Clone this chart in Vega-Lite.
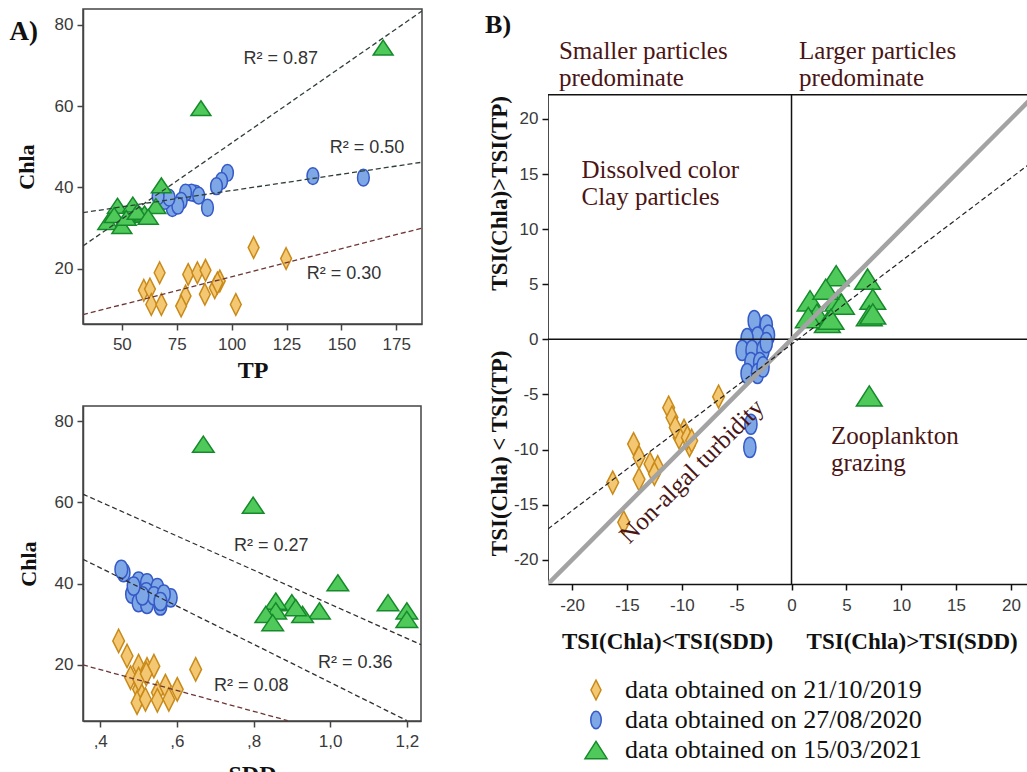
{
  "$schema": "https://vega.github.io/schema/vega-lite/v6.json",
  "padding": {"left": 8, "top": 8, "right": 0, "bottom": 0},
  "background": "white",
  "spacing": 62,
  "config": {
    "font": "Liberation Sans",
    "view": {"stroke": "#444", "strokeWidth": 1.5},
    "axis": {"labelFont": "Liberation Sans", "labelFontSize": 17, "labelColor": "#3a3a3a", "domainColor": "#444", "tickColor": "#444", "grid": false, "domainWidth": 1.5, "tickWidth": 1.5, "tickSize": 6, "titleFont": "Liberation Serif", "titleFontWeight": "bold", "titleColor": "#111"}
  },
  "resolve": {"scale": {"shape": "independent", "fill": "independent", "stroke": "independent"}, "legend": {"shape": "independent", "fill": "independent", "stroke": "independent"}},
  "datasets": {
    "tp": [
      {"date": "21/10/2019", "TP": 110, "Chla": 25.2}, {"date": "21/10/2019", "TP": 124.8, "Chla": 22.5}, {"date": "21/10/2019", "TP": 67.2, "Chla": 19}, {"date": "21/10/2019", "TP": 80.2, "Chla": 18.6}, {"date": "21/10/2019", "TP": 84.4, "Chla": 19}, {"date": "21/10/2019", "TP": 88.1, "Chla": 19.6}, {"date": "21/10/2019", "TP": 94.6, "Chla": 17}, {"date": "21/10/2019", "TP": 92.3, "Chla": 15.3}, {"date": "21/10/2019", "TP": 60, "Chla": 14.7}, {"date": "21/10/2019", "TP": 62.8, "Chla": 15}, {"date": "21/10/2019", "TP": 87.8, "Chla": 13.7}, {"date": "21/10/2019", "TP": 79, "Chla": 13.3}, {"date": "21/10/2019", "TP": 77, "Chla": 10.8}, {"date": "21/10/2019", "TP": 63.4, "Chla": 11.2}, {"date": "21/10/2019", "TP": 68, "Chla": 11.2}, {"date": "21/10/2019", "TP": 101.9, "Chla": 11.2}, {"date": "21/10/2019", "TP": 93.5, "Chla": 16.5},
      {"date": "27/08/2020", "TP": 137, "Chla": 42.8}, {"date": "27/08/2020", "TP": 160, "Chla": 42.4}, {"date": "27/08/2020", "TP": 98.1, "Chla": 43.6}, {"date": "27/08/2020", "TP": 95.4, "Chla": 41.6}, {"date": "27/08/2020", "TP": 93.1, "Chla": 40.3}, {"date": "27/08/2020", "TP": 89, "Chla": 35}, {"date": "27/08/2020", "TP": 83.6, "Chla": 38.5}, {"date": "27/08/2020", "TP": 81.7, "Chla": 38.7}, {"date": "27/08/2020", "TP": 79, "Chla": 38.7}, {"date": "27/08/2020", "TP": 77, "Chla": 36.7}, {"date": "27/08/2020", "TP": 73, "Chla": 34.9}, {"date": "27/08/2020", "TP": 75.5, "Chla": 35.5}, {"date": "27/08/2020", "TP": 69.5, "Chla": 36.7}, {"date": "27/08/2020", "TP": 71.5, "Chla": 37.5}, {"date": "27/08/2020", "TP": 66.5, "Chla": 37.8}, {"date": "27/08/2020", "TP": 85, "Chla": 38},
      {"date": "15/03/2021", "TP": 169, "Chla": 74.4}, {"date": "15/03/2021", "TP": 86, "Chla": 59.5}, {"date": "15/03/2021", "TP": 68, "Chla": 40.5}, {"date": "15/03/2021", "TP": 65.5, "Chla": 35.4}, {"date": "15/03/2021", "TP": 48, "Chla": 35.5}, {"date": "15/03/2021", "TP": 55, "Chla": 35.8}, {"date": "15/03/2021", "TP": 58.5, "Chla": 33.2}, {"date": "15/03/2021", "TP": 60.3, "Chla": 33.6}, {"date": "15/03/2021", "TP": 43.6, "Chla": 31.5}, {"date": "15/03/2021", "TP": 50, "Chla": 30.5}, {"date": "15/03/2021", "TP": 46.5, "Chla": 33.2}, {"date": "15/03/2021", "TP": 52, "Chla": 32.5}, {"date": "15/03/2021", "TP": 57, "Chla": 34}, {"date": "15/03/2021", "TP": 62, "Chla": 32.8}
    ],
    "tpfit": [
      {"date": "21/10/2019", "TP": 32.3, "Chla": 8.7, "TP2": 186.7, "Chla2": 30},
      {"date": "27/08/2020", "TP": 32.3, "Chla": 33.8, "TP2": 186.7, "Chla2": 46.2},
      {"date": "15/03/2021", "TP": 32.3, "Chla": 25.6, "TP2": 186.7, "Chla2": 83.4}
    ],
    "tpr2": [
      {"TP": 105.4, "Chla": 71.6, "label": "R² = 0.87"},
      {"TP": 144.7, "Chla": 49.8, "label": "R² = 0.50"},
      {"TP": 134.2, "Chla": 18.6, "label": "R² = 0.30"}
    ],
    "tpA": [{"TP": 5.3, "Chla": 78.3, "label": "A)"}],
    "sdd": [
      {"date": "21/10/2019", "SDD": 0.448, "Chla": 25.9}, {"date": "21/10/2019", "SDD": 0.47, "Chla": 22.2}, {"date": "21/10/2019", "SDD": 0.5, "Chla": 19.7}, {"date": "21/10/2019", "SDD": 0.522, "Chla": 18.9}, {"date": "21/10/2019", "SDD": 0.54, "Chla": 19.7}, {"date": "21/10/2019", "SDD": 0.649, "Chla": 18.9}, {"date": "21/10/2019", "SDD": 0.479, "Chla": 16.9}, {"date": "21/10/2019", "SDD": 0.5, "Chla": 14}, {"date": "21/10/2019", "SDD": 0.549, "Chla": 13.2}, {"date": "21/10/2019", "SDD": 0.57, "Chla": 14.8}, {"date": "21/10/2019", "SDD": 0.601, "Chla": 14}, {"date": "21/10/2019", "SDD": 0.496, "Chla": 10.7}, {"date": "21/10/2019", "SDD": 0.518, "Chla": 11.5}, {"date": "21/10/2019", "SDD": 0.549, "Chla": 11.3}, {"date": "21/10/2019", "SDD": 0.579, "Chla": 11.5}, {"date": "21/10/2019", "SDD": 0.5, "Chla": 16.5}, {"date": "21/10/2019", "SDD": 0.52, "Chla": 17.8},
      {"date": "27/08/2020", "SDD": 0.461, "Chla": 42.7}, {"date": "27/08/2020", "SDD": 0.5, "Chla": 40.6}, {"date": "27/08/2020", "SDD": 0.522, "Chla": 40.2}, {"date": "27/08/2020", "SDD": 0.549, "Chla": 39}, {"date": "27/08/2020", "SDD": 0.483, "Chla": 37.4}, {"date": "27/08/2020", "SDD": 0.5, "Chla": 35.3}, {"date": "27/08/2020", "SDD": 0.522, "Chla": 34.9}, {"date": "27/08/2020", "SDD": 0.557, "Chla": 34.5}, {"date": "27/08/2020", "SDD": 0.584, "Chla": 36.5}, {"date": "27/08/2020", "SDD": 0.52, "Chla": 38}, {"date": "27/08/2020", "SDD": 0.54, "Chla": 37}, {"date": "27/08/2020", "SDD": 0.566, "Chla": 37.4}, {"date": "27/08/2020", "SDD": 0.51, "Chla": 37}, {"date": "27/08/2020", "SDD": 0.487, "Chla": 39.4}, {"date": "27/08/2020", "SDD": 0.455, "Chla": 43.5}, {"date": "27/08/2020", "SDD": 0.557, "Chla": 35.6},
      {"date": "15/03/2021", "SDD": 0.669, "Chla": 74.3}, {"date": "15/03/2021", "SDD": 0.799, "Chla": 59.3}, {"date": "15/03/2021", "SDD": 1.02, "Chla": 40.2}, {"date": "15/03/2021", "SDD": 1.151, "Chla": 35.3}, {"date": "15/03/2021", "SDD": 1.2, "Chla": 33.3}, {"date": "15/03/2021", "SDD": 1.2, "Chla": 31.2}, {"date": "15/03/2021", "SDD": 0.972, "Chla": 33.3}, {"date": "15/03/2021", "SDD": 0.928, "Chla": 32.4}, {"date": "15/03/2021", "SDD": 0.9, "Chla": 35.3}, {"date": "15/03/2021", "SDD": 0.858, "Chla": 35.7}, {"date": "15/03/2021", "SDD": 0.858, "Chla": 33.3}, {"date": "15/03/2021", "SDD": 0.832, "Chla": 32.4}, {"date": "15/03/2021", "SDD": 0.85, "Chla": 30.4}, {"date": "15/03/2021", "SDD": 0.91, "Chla": 34.1}
    ],
    "sddfit": [
      {"date": "21/10/2019", "SDD": 0.355, "Chla": 20, "SDD2": 0.889, "Chla2": 6.3},
      {"date": "27/08/2020", "SDD": 0.355, "Chla": 46, "SDD2": 1.2, "Chla2": 6.3},
      {"date": "15/03/2021", "SDD": 0.355, "Chla": 62, "SDD2": 1.237, "Chla2": 25}
    ],
    "sddr2": [
      {"SDD": 0.749, "Chla": 49.2, "label": "R² = 0.27"},
      {"SDD": 0.968, "Chla": 20.5, "label": "R² = 0.36"},
      {"SDD": 0.697, "Chla": 14.8, "label": "R² = 0.08"}
    ],
    "tsi": [
      {"date": "21/10/2019", "dSDD": -6.65, "dTP": -5.2}, {"date": "21/10/2019", "dSDD": -11.2, "dTP": -6.2}, {"date": "21/10/2019", "dSDD": -10.9, "dTP": -7.1}, {"date": "21/10/2019", "dSDD": -9.8, "dTP": -8.3}, {"date": "21/10/2019", "dSDD": -10.25, "dTP": -8.9}, {"date": "21/10/2019", "dSDD": -9.3, "dTP": -9.6}, {"date": "21/10/2019", "dSDD": -14.4, "dTP": -9.5}, {"date": "21/10/2019", "dSDD": -13.9, "dTP": -10.7}, {"date": "21/10/2019", "dSDD": -12.9, "dTP": -11.3}, {"date": "21/10/2019", "dSDD": -12.2, "dTP": -11.6}, {"date": "21/10/2019", "dSDD": -13.9, "dTP": -12.7}, {"date": "21/10/2019", "dSDD": -12.5, "dTP": -12.2}, {"date": "21/10/2019", "dSDD": -16.3, "dTP": -13}, {"date": "21/10/2019", "dSDD": -15.3, "dTP": -16.6}, {"date": "21/10/2019", "dSDD": -9.5, "dTP": -8.9}, {"date": "21/10/2019", "dSDD": -10.6, "dTP": -8.0}, {"date": "21/10/2019", "dSDD": -9.1, "dTP": -9.2},
      {"date": "27/08/2020", "dSDD": -3.4, "dTP": 1.7}, {"date": "27/08/2020", "dSDD": -2.3, "dTP": 1.3}, {"date": "27/08/2020", "dSDD": -2.1, "dTP": 0.4}, {"date": "27/08/2020", "dSDD": -3.1, "dTP": 0.2}, {"date": "27/08/2020", "dSDD": -4.05, "dTP": 0.06}, {"date": "27/08/2020", "dSDD": -4.5, "dTP": -1.0}, {"date": "27/08/2020", "dSDD": -3.6, "dTP": -1.0}, {"date": "27/08/2020", "dSDD": -2.6, "dTP": -1.0}, {"date": "27/08/2020", "dSDD": -2.3, "dTP": -0.3}, {"date": "27/08/2020", "dSDD": -3.7, "dTP": -2.1}, {"date": "27/08/2020", "dSDD": -2.9, "dTP": -2.1}, {"date": "27/08/2020", "dSDD": -4.05, "dTP": -3.1}, {"date": "27/08/2020", "dSDD": -3.1, "dTP": -3.1}, {"date": "27/08/2020", "dSDD": -3.7, "dTP": -7.7}, {"date": "27/08/2020", "dSDD": -3.8, "dTP": -9.8}, {"date": "27/08/2020", "dSDD": -2.6, "dTP": -2.5},
      {"date": "15/03/2021", "dSDD": 4.07, "dTP": 5.77}, {"date": "15/03/2021", "dSDD": 6.93, "dTP": 5.47}, {"date": "15/03/2021", "dSDD": 7.41, "dTP": 3.65}, {"date": "15/03/2021", "dSDD": 7.09, "dTP": 2.14}, {"date": "15/03/2021", "dSDD": 7.41, "dTP": 2.3}, {"date": "15/03/2021", "dSDD": 1.69, "dTP": 3.5}, {"date": "15/03/2021", "dSDD": 4.23, "dTP": 3.5}, {"date": "15/03/2021", "dSDD": 4.55, "dTP": 3.2}, {"date": "15/03/2021", "dSDD": 3.12, "dTP": 4.56}, {"date": "15/03/2021", "dSDD": 2.32, "dTP": 2.29}, {"date": "15/03/2021", "dSDD": 3.27, "dTP": 1.53}, {"date": "15/03/2021", "dSDD": 1.53, "dTP": 1.98}, {"date": "15/03/2021", "dSDD": 3.6, "dTP": 1.83}, {"date": "15/03/2021", "dSDD": 7.09, "dTP": -5.14}
    ],
    "tsiframe": [
      {"dSDD": -22.2, "dTP": 22.2, "dSDD2": 22.2, "dTP2": 22.2},
      {"dSDD": -22.2, "dTP": -22.2, "dSDD2": -22.2, "dTP2": 22.2},
      {"dSDD": -22.2, "dTP": 0, "dSDD2": 22.2, "dTP2": 0},
      {"dSDD": 0, "dTP": -22.2, "dSDD2": 0, "dTP2": 22.2}
    ],
    "tsiline": [{"dSDD": -22.2, "dTP": -22.2, "dSDD2": 22.2, "dTP2": 22.2}],
    "tsifit": [{"dSDD": -22.2, "dTP": -17.2, "dSDD2": 22.2, "dTP2": 16.3}],
    "tsinotes": [
      {"role": "note", "dSDD": -21.2, "dTP": 27.3, "label": "Smaller particles\npredominate"},
      {"role": "note", "dSDD": 0.69, "dTP": 27.3, "label": "Larger particles\npredominate"},
      {"role": "note", "dSDD": -19.15, "dTP": 16.43, "label": "Dissolved color\nClay particles"},
      {"role": "note", "dSDD": 3.59, "dTP": -7.7, "label": "Zooplankton\ngrazing"},
      {"role": "diag", "dSDD": -9.1, "dTP": -11.95, "label": "Non-algal turbidity"},
      {"role": "axis", "dSDD": -11.3, "dTP": -27.5, "label": "TSI(Chla)<TSI(SDD)"},
      {"role": "axis", "dSDD": 11.0, "dTP": -27.5, "label": "TSI(Chla)>TSI(SDD)"},
      {"role": "axisv", "dSDD": -26.56, "dTP": 13.25, "label": "TSI(Chla)>TSI(TP)"},
      {"role": "axisv", "dSDD": -26.56, "dTP": -10.34, "label": "TSI(Chla) < TSI(TP)"},
      {"role": "panel", "dSDD": -26.75, "dTP": 28.5, "label": "B)"}
    ]
  },
  "hconcat": [
    {
      "bounds": "flush",
      "spacing": 82,
      "vconcat": [
        {
          "width": 339,
          "height": 315,
          "encoding": {
            "x": {"field": "TP", "type": "quantitative", "scale": {"domain": [32.3, 186.7], "nice": false, "zero": false}, "axis": {"values": [50, 75, 100, 125, 150, 175], "title": "TP", "titleFontSize": 24, "titlePadding": 6, "labelPadding": 6}},
            "y": {"field": "Chla", "type": "quantitative", "scale": {"domain": [6.4, 83.9], "nice": false, "zero": false}, "axis": {"values": [20, 40, 60, 80], "title": "Chla", "titleFontSize": 22, "titlePadding": 16, "labelPadding": 4}}
          },
          "layer": [
            {
              "data": {"name": "tp"},
              "mark": {"type": "point", "filled": true, "size": 576, "strokeWidth": 1.5, "opacity": 1, "strokeOpacity": 1},
              "encoding": {
                "shape": {"field": "date", "type": "nominal", "scale": {"domain": ["21/10/2019", "27/08/2020", "15/03/2021"], "range": ["M0,-0.9L0.45,0L0,0.9L-0.45,0Z", "M0,-0.7C0.65,-0.7 0.65,0.7 0,0.7C-0.65,0.7 -0.65,-0.7 0,-0.7Z", "M0,-0.62L0.83,0.62L-0.83,0.62Z"]}, "legend": null},
                "fill": {"field": "date", "type": "nominal", "scale": {"domain": ["21/10/2019", "27/08/2020", "15/03/2021"], "range": ["#f4c872", "#7ea7e6", "#4fc95a"]}, "legend": null},
                "stroke": {"field": "date", "type": "nominal", "scale": {"domain": ["21/10/2019", "27/08/2020", "15/03/2021"], "range": ["#c98a1a", "#3559c7", "#168a2b"]}, "legend": null}
              }
            },
            {
              "data": {"name": "tpfit"},
              "mark": {"type": "rule", "strokeDash": [5, 3], "strokeWidth": 1.3, "clip": true},
              "encoding": {"x2": {"field": "TP2"}, "y2": {"field": "Chla2"}, "stroke": {"condition": {"test": "datum.date === '21/10/2019'", "value": "#6e3535"}, "value": "#2f3f36"}}
            },
            {
              "data": {"name": "tpr2"},
              "mark": {"type": "text", "align": "left", "baseline": "middle", "font": "Liberation Sans", "fontSize": 18, "color": "#333"},
              "encoding": {"text": {"field": "label"}}
            },
            {
              "data": {"name": "tpA"},
              "mark": {"type": "text", "align": "center", "baseline": "middle", "font": "Liberation Serif", "fontWeight": "bold", "fontSize": 27, "color": "#111", "clip": false},
              "encoding": {"text": {"field": "label"}}
            }
          ]
        },
        {
          "width": 338,
          "height": 315,
          "encoding": {
            "x": {"field": "SDD", "type": "quantitative", "scale": {"domain": [0.355, 1.237], "nice": false, "zero": false}, "axis": {"values": [0.4, 0.6, 0.8, 1.0, 1.2], "labelExpr": "datum.value < 1 ? replace(format(datum.value, '.1f'), '0.', ',') : replace(format(datum.value, '.1f'), '.', ',')", "title": "SDD", "titleFontSize": 24, "titlePadding": 13, "labelPadding": 6}},
            "y": {"field": "Chla", "type": "quantitative", "scale": {"domain": [6.2, 83.7], "nice": false, "zero": false}, "axis": {"values": [20, 40, 60, 80], "title": "Chla", "titleFontSize": 22, "titlePadding": 14, "labelPadding": 4}}
          },
          "layer": [
            {
              "data": {"name": "sdd"},
              "mark": {"type": "point", "filled": true, "size": 676, "strokeWidth": 1.5, "opacity": 1, "strokeOpacity": 1},
              "encoding": {
                "shape": {"field": "date", "type": "nominal", "scale": {"domain": ["21/10/2019", "27/08/2020", "15/03/2021"], "range": ["M0,-0.75L0.45,0L0,0.75L-0.45,0Z", "M0,-0.75C0.6,-0.75 0.6,0.75 0,0.75C-0.6,0.75 -0.6,-0.75 0,-0.75Z", "M0,-0.62L0.85,0.62L-0.85,0.62Z"]}, "legend": null},
                "fill": {"field": "date", "type": "nominal", "scale": {"domain": ["21/10/2019", "27/08/2020", "15/03/2021"], "range": ["#f4c872", "#7ea7e6", "#4fc95a"]}, "legend": null},
                "stroke": {"field": "date", "type": "nominal", "scale": {"domain": ["21/10/2019", "27/08/2020", "15/03/2021"], "range": ["#c98a1a", "#3559c7", "#168a2b"]}, "legend": null}
              }
            },
            {
              "data": {"name": "sddfit"},
              "mark": {"type": "rule", "strokeDash": [5, 3], "strokeWidth": 1.3, "clip": true},
              "encoding": {"x2": {"field": "SDD2"}, "y2": {"field": "Chla2"}, "stroke": {"condition": {"test": "datum.date === '21/10/2019'", "value": "#6e3535"}, "value": "#2f2f2f"}}
            },
            {
              "data": {"name": "sddr2"},
              "mark": {"type": "text", "align": "left", "baseline": "middle", "font": "Liberation Sans", "fontSize": 18, "color": "#333"},
              "encoding": {"text": {"field": "label"}}
            }
          ]
        }
      ]
    },
    {
      "width": 481,
      "height": 575,
      "view": {"stroke": null},
      "encoding": {
        "x": {"field": "dSDD", "type": "quantitative", "scale": {"domain": [-22.2, 21.65], "nice": false, "zero": false}, "axis": {"values": [-20, -15, -10, -5, 0, 5, 10, 15, 20], "title": null, "labelExpr": "'' + datum.value", "labelPadding": 7, "domainColor": "#111", "tickColor": "#111"}},
        "y": {"field": "dTP", "type": "quantitative", "scale": {"domain": [-22.2, 29.98], "nice": false, "zero": false}, "axis": {"values": [-20, -15, -10, -5, 0, 5, 10, 15, 20], "title": null, "labelExpr": "'' + datum.value", "labelPadding": 4, "domain": false, "tickColor": "#111"}}
      },
      "layer": [
        {
          "data": {"name": "tsi"},
          "mark": {"type": "point", "filled": true, "size": 784, "strokeWidth": 1.5, "opacity": 1, "strokeOpacity": 1},
          "encoding": {
            "shape": {"field": "date", "type": "nominal", "scale": {"domain": ["21/10/2019", "27/08/2020", "15/03/2021"], "range": ["M0,-0.82L0.42,0L0,0.82L-0.42,0Z", "M0,-0.72C0.58,-0.72 0.58,0.72 0,0.72C-0.58,0.72 -0.58,-0.72 0,-0.72Z", "M0,-0.72L0.92,0.72L-0.92,0.72Z"]}, "legend": {"orient": "none", "legendX": 35, "legendY": 668, "title": null, "padding": 0, "labelFont": "Liberation Serif", "labelFontSize": 26, "labelColor": "#111", "labelExpr": "'data obtained on ' + datum.label", "symbolSize": 576, "symbolStrokeWidth": 1.5, "rowPadding": 4, "labelOffset": 16, "labelLimit": 500}},
            "fill": {"field": "date", "type": "nominal", "scale": {"domain": ["21/10/2019", "27/08/2020", "15/03/2021"], "range": ["#f4c872", "#7ea7e6", "#4fc95a"]}, "legend": {"orient": "none", "legendX": 35, "legendY": 668, "title": null, "padding": 0, "labelFont": "Liberation Serif", "labelFontSize": 26, "labelColor": "#111", "labelExpr": "'data obtained on ' + datum.label", "symbolSize": 576, "symbolStrokeWidth": 1.5, "rowPadding": 4, "labelOffset": 16, "labelLimit": 500}},
            "stroke": {"field": "date", "type": "nominal", "scale": {"domain": ["21/10/2019", "27/08/2020", "15/03/2021"], "range": ["#c98a1a", "#3559c7", "#168a2b"]}, "legend": {"orient": "none", "legendX": 35, "legendY": 668, "title": null, "padding": 0, "labelFont": "Liberation Serif", "labelFontSize": 26, "labelColor": "#111", "labelExpr": "'data obtained on ' + datum.label", "symbolSize": 576, "symbolStrokeWidth": 1.5, "rowPadding": 4, "labelOffset": 16, "labelLimit": 500}}
          }
        },
        {
          "data": {"name": "tsiframe"},
          "mark": {"type": "rule", "color": "#111", "strokeWidth": 1.5, "clip": true},
          "encoding": {"x2": {"field": "dSDD2"}, "y2": {"field": "dTP2"}}
        },
        {
          "data": {"name": "tsiline"},
          "mark": {"type": "rule", "color": "#a3a3a3", "strokeWidth": 4.5, "clip": true},
          "encoding": {"x2": {"field": "dSDD2"}, "y2": {"field": "dTP2"}}
        },
        {
          "data": {"name": "tsifit"},
          "mark": {"type": "rule", "color": "#222", "strokeWidth": 1.2, "strokeDash": [5, 3], "clip": true},
          "encoding": {"x2": {"field": "dSDD2"}, "y2": {"field": "dTP2"}}
        },
        {
          "data": {"name": "tsinotes"},
          "transform": [{"filter": "datum.role === 'note'"}],
          "mark": {"type": "text", "align": "left", "baseline": "top", "font": "Liberation Serif", "fontSize": 25, "lineHeight": 27, "lineBreak": "\n", "color": "#4a1515", "clip": false},
          "encoding": {"text": {"field": "label"}}
        },
        {
          "data": {"name": "tsinotes"},
          "transform": [{"filter": "datum.role === 'diag'"}],
          "mark": {"type": "text", "align": "center", "baseline": "middle", "angle": -45, "font": "Liberation Serif", "fontSize": 25, "color": "#4a1515", "clip": false},
          "encoding": {"text": {"field": "label"}}
        },
        {
          "data": {"name": "tsinotes"},
          "transform": [{"filter": "datum.role === 'axis'"}],
          "mark": {"type": "text", "align": "center", "baseline": "middle", "font": "Liberation Serif", "fontWeight": "bold", "fontSize": 23, "color": "#111", "clip": false},
          "encoding": {"text": {"field": "label"}}
        },
        {
          "data": {"name": "tsinotes"},
          "transform": [{"filter": "datum.role === 'axisv'"}],
          "mark": {"type": "text", "align": "center", "baseline": "middle", "angle": -90, "font": "Liberation Serif", "fontWeight": "bold", "fontSize": 23, "color": "#111", "clip": false},
          "encoding": {"text": {"field": "label"}}
        },
        {
          "data": {"name": "tsinotes"},
          "transform": [{"filter": "datum.role === 'panel'"}],
          "mark": {"type": "text", "align": "center", "baseline": "middle", "font": "Liberation Serif", "fontWeight": "bold", "fontSize": 26, "color": "#111", "clip": false},
          "encoding": {"text": {"field": "label"}}
        }
      ]
    }
  ]
}
